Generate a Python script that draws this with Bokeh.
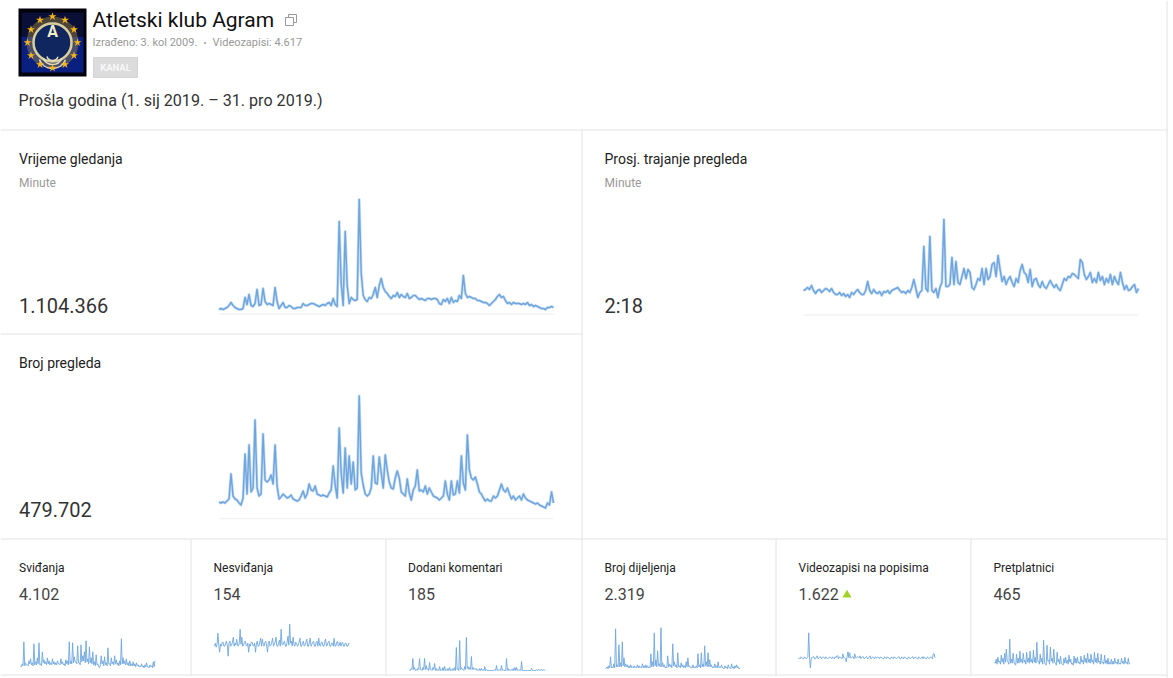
from bokeh.plotting import figure
from bokeh.models import Range1d
from bokeh.core.properties import value
from bokeh.embed import file_html
from bokeh.resources import INLINE

W, H = 1173, 678

watch_time = [4,5,4,5,6,8,11,8,6,5, 4,4,5,16,9,19,8,7,10,24, 8,9,25,12,9,10,9,8,26,12,
              5,8,11,6,6,8,7,5,5,6, 6,6,10,8,8,9,10,10,9,8, 7,8,9,8,10,11,8,15,9,7,
              92,30,8,82,28,10,16,14,13,14, 114,40,18,14,12,16,15,19,26,16,
              28,35,26,22,20,17,15,18,17,21, 16,19,17,16,20,15,16,18,18,16,
              14,15,14,13,15,15,14,15,15,14, 10,9,14,12,15,10,16,11,13,12,
              18,15,38,20,16,17,16,15,15,13, 13,12,11,11,10,8,10,12,14,17,
              19,16,17,13,10,11,9,11,10,10, 10,9,10,9,11,8,9,7,8,7, 6,5,5,4,6,6,7,6]
avg_duration = [24,25,27,25,29,24,21,24,25,22, 24,26,25,23,26,22,20,20,22,19, 21,18,20,17,22,20,23,25,22,20,
                20,24,33,24,21,25,22,21,23,19, 23,22,24,21,24,25,26,27,24,22, 23,21,24,22,27,35,26,17,22,24,
                68,26,23,78,24,22,26,17,27,32, 95,28,28,30,57,30,53,32,30,38,
                46,36,45,42,27,25,30,36,34,46, 30,46,35,38,50,52,38,59,45,33,
                38,30,35,38,32,28,36,32,44,50, 42,40,32,45,28,35,36,30,27,33,
                28,26,30,34,30,27,30,26,24,30, 36,34,38,37,41,40,38,36,55,52,
                40,35,38,42,32,36,32,42,34,38, 30,36,32,40,30,38,33,30,42,32, 25,29,24,25,28,30,22,26]
views = [16,15,16,15,17,19,44,22,19,18, 15,13,20,64,24,73,26,30,98,30, 22,24,84,38,36,38,43,34,73,32,
         19,21,24,22,20,21,23,19,18,17, 18,22,27,20,24,34,28,27,32,24, 23,22,23,22,21,25,28,52,33,20,
         90,45,25,70,30,62,34,56,28,30, 122,45,33,24,22,24,30,62,35,34,
         61,45,30,63,48,36,30,29,40,47, 40,26,24,22,39,25,18,28,32,48,
         27,28,26,32,24,30,26,22,21,20, 18,20,22,37,24,18,37,23,24,37,
         25,62,35,28,83,48,40,38,41,34, 26,24,20,17,19,17,17,22,20,22,
         28,34,28,26,30,24,19,22,18,20, 22,18,24,20,18,17,16,15,14,15, 13,12,11,10,15,13,26,15]
likes = [4,3,6,4,28,4,7,5,5,4,9,6,11,5,7,4,26,5,8,5, 12,6,27,5,6,4,18,7,10,6,8,5,12,6,9,5,7,5,11,6,
         8,5,7,5,9,6,6,5,11,6,8,5,6,4,10,6,9,5,28,6, 9,6,27,7,13,8,8,6,24,7,7,5,25,8,14,9,18,7,29,8,
         11,6,23,7,12,6,18,5,8,4,15,5,6,3,2,5,14,6,9,4, 13,5,7,4,22,6,6,4,12,6,8,5,14,6,10,5,7,4,9,5,
         31,6,12,6,9,5,11,5,7,4,9,4,6,4,8,4,6,3,7,4, 5,3,4,3,6,3,4,2,5,3,7,3,3,2,5,3,4,2,8,3,9]
dislikes = [11,14,10,13,24,12,5,13,11,15,15,11,11,14,16,12,1,14,16,11, 12,15,20,11,14,12,18,12,11,14,28,13,20,11,12,15,16,12,11,14,
            5,13,11,15,15,12,11,14,5,13,16,11,11,15,19,11,18,13,11,15, 16,12,5,14,16,11,12,15,19,11,13,15,20,11,11,14,17,11,28,13,
            12,15,16,11,11,15,21,12,33,14,16,11,20,13,11,15,14,11,12,15, 19,11,11,15,16,11,12,15,18,11,11,15,19,11,13,15,16,11,11,15,
            16,11,19,12,11,15,15,11,11,15,18,11,12,15,16,11,11,14,14,11, 19,11,11,15,16,11,12,15,11,14,15,11,11,14,14,11,11,14,13]
comments = [0,0,2,1,12,1,3,0,1,0,2,1,12,1,1,0,3,1,12,1, 5,1,2,0,8,1,1,0,3,1,7,0,2,0,1,0,4,0,1,0,
            3,0,4,0,1,0,2,0,3,0,1,0,2,0,3,0,23,1,2,0, 30,1,3,1,1,0,4,1,33,2,4,1,3,1,14,1,3,1,2,1,
            2,0,1,0,2,0,2,0,1,0,4,0,1,0,0,0,0,0,0,0, 0,0,1,0,5,0,1,0,1,0,5,0,1,0,0,0,12,0,2,0,
            1,0,1,0,2,0,3,0,3,0,1,0,1,0,9,0,0,0,0,0, 0,0,0,0,0,0,2,0,0,0,0,0,1,0,1,0,1,0,1,0,1,0,1]
shares = [1,2,3,1,4,2,13,2,3,2,6,2,41,3,5,3,25,3,7,3, 28,4,12,3,6,3,5,2,4,2,5,2,3,2,4,2,3,2,5,2,
          4,2,3,2,6,2,4,2,5,2,4,2,3,2,16,3,8,3,37,4, 10,3,19,4,6,3,42,3,7,3,5,2,3,2,14,3,6,3,5,2,
          26,4,8,3,5,2,17,3,4,2,7,3,5,2,4,2,8,3,12,3, 4,2,3,2,5,2,3,2,4,2,16,3,5,2,17,3,6,3,24,4,
          8,3,17,3,10,3,5,2,3,2,6,2,4,2,8,2,3,2,5,2, 2,1,4,2,3,1,5,2,2,1,6,2,3,1,4,2,5,2,3,1,2]
playlists = [10,11,10,12,11,10,10,12,11,10,11,12,36,10,1,11,11,12,12,10,
             10,12,13,10,11,12,12,10,11,12,11,10,12,11,10,11,11,12,11,10, 12,11,10,12,11,13,13,10,12,11,11,10,15,11,11,10,7,12,17,11,
             16,11,11,12,12,10,15,11,11,12,12,11,13,10,11,12,12,10,11,12, 12,10,11,12,13,10,11,12,11,10,12,11,11,12,11,10,12,11,11,10,
             10,12,11,10,12,11,11,10,10,12,11,10,12,11,11,10,11,12,12,10, 10,12,11,10,12,11,11,10,10,12,11,10,11,12,12,10,11,12,11,10,
             10,12,11,10,11,12,10,12,11,10,10,12,11,10,11,12,11,10,15,15,11]
subscribers = [5,4,8,3,10,5,6,3,12,5,9,3,14,5,18,6,5,3,28,4, 8,4,14,5,3,2,13,4,9,4,16,5,8,4,14,5,7,3,15,5,
               9,4,16,5,8,4,17,5,10,4,25,6,6,3,13,5,9,3,27,5, 3,2,22,6,7,3,20,6,9,4,18,5,4,2,15,5,8,3,11,4,
               3,2,9,4,10,4,7,3,12,5,8,3,4,2,11,4,9,4,10,4, 5,3,11,5,7,3,12,5,9,4,14,5,8,4,13,5,7,3,15,5,
               9,4,14,5,6,3,13,4,5,3,12,4,7,3,9,3,5,3,8,3, 6,3,9,4,5,3,8,3,4,3,9,4,6,3,10,4,5,3,9,3,4]

p = figure(width=W, height=H, x_range=Range1d(0, W), y_range=Range1d(H, 0),
           output_backend="svg", toolbar_location=None, min_border=0,
           outline_line_color=None)
p.axis.visible = False
p.grid.visible = False
p.styles = {"position": "absolute", "left": "0px", "top": "0px"}
p.background_fill_color = "#ffffff"


def label(x, y, s, size, color="#222222", style="normal", align="left"):
    p.text([x - 1], [y - 2], text=[s], text_font=value("Roboto"), text_font_size=f"{size}px",
           text_color=color, text_font_style=style, text_baseline="middle", text_align=align)


RULE = "#e2e2e2"
for y0, x0, x1 in [(130, 0, 1167), (334, 0, 582), (539, 0, 1167), (675, 0, 1167)]:
    p.segment([x0], [y0 - .5], [x1], [y0 - .5], line_color=RULE, line_width=1)
for x0, y0, y1 in [(582, 130, 675), (191, 539, 675), (386, 539, 675), (776, 539, 675),
                   (971, 539, 675), (1167, 0, 678)]:
    p.segment([x0 - .5], [y0], [x0 - .5], [y1], line_color=RULE, line_width=1)

# channel logo
p.quad(left=[18], right=[86], top=[8], bottom=[76], fill_color="#02030a", line_color=None)
p.quad(left=[21], right=[83], top=[36], bottom=[72], fill_color="#0a2080", line_color=None)
p.quad(left=[21], right=[83], top=[12], bottom=[36], fill_color="#0a0f38", line_color=None)
p.circle([52], [42], radius=26, fill_color="#c9a83c", fill_alpha=.35, line_color=None)
p.circle([52], [42], radius=19, fill_color="#10265e", line_color="#d8cfa0", line_width=2.5)
for r in [6, 10, 14]:
    p.arc([52], [54], radius=r, start_angle=3.5, end_angle=5.9, line_color="#e6e0c0", line_width=1.5)
label(53, 33, "A", 16, color="#f2eccb", style="bold", align="center")
ring_x = [52, 64.5, 73.5, 77, 73.5, 64.5, 52, 39.5, 30.5, 27, 30.5, 39.5]
ring_y = [16, 19.5, 29, 42, 55, 64, 67.5, 64, 55, 42, 29, 19.5]
p.scatter(ring_x, ring_y, marker="star", size=8.5, fill_color="#f4b41a", line_color=None)

label(93, 21, "Atletski klub Agram", 21, color="#111111")
p.quad(left=[288], right=[296], top=[14], bottom=[22], fill_color=None, line_color="#999999")
p.quad(left=[285], right=[293], top=[17], bottom=[25], fill_color="#ffffff", line_color="#999999")
label(93, 44, "Izrađeno: 3. kol 2009.", 11, color="#999999")
label(204, 44, "•", 9, color="#999999")
label(213, 44, "Videozapisi: 4.617", 11, color="#999999")
p.quad(left=[93], right=[137], top=[57], bottom=[77], fill_color="#dcdcdc", line_color="#d4d4d4")
label(116, 69, "KANAL", 9.5, color="#f7f7f7", style="bold", align="center")
label(19, 102, "Prošla godina (1. sij 2019. – 31. pro 2019.)", 16.1, color="#333333")

label(19.5, 160.5, "Vrijeme gledanja", 14, color="#222222")
label(19.5, 184.5, "Minute", 12, color="#999999")
label(19.5, 307, "1.104.366", 20, color="#333333")
label(605, 160.5, "Prosj. trajanje pregleda", 14, color="#222222")
label(605, 184.5, "Minute", 12, color="#999999")
label(19.5, 364.5, "Broj pregleda", 14, color="#222222")
label(19.5, 511, "479.702", 20, color="#333333")
label(605, 307, "2:18", 20, color="#333333")

small_titles = ["Sviđanja", "Nesviđanja", "Dodani komentari", "Broj dijeljenja",
                "Videozapisi na popisima", "Pretplatnici"]
small_values = ["4.102", "154", "185", "2.319", "1.622", "465"]
small_x = [19.5, 214, 408.5, 605, 799, 994]
for x0, t, v in zip(small_x, small_titles, small_values):
    label(x0, 569, t, 12, color="#222222")
    label(x0, 595, v, 16, color="#444444")
p.scatter([846.5], [594.5], marker="triangle", size=9, fill_color="#9ed322", line_color=None)

for x0, x1, y0 in [(219, 553, 313.5), (803, 1138, 314.5), (219, 553, 518)]:
    p.segment([x0], [y0], [x1], [y0], line_color="#f2f2f2", line_width=1.5)

LINE = "#6fa6de"


def spark(name, values, x0, x1, base):
    n = len(values) - 1
    step = (x1 - x0) / n
    p.extra_x_ranges[name] = Range1d(-x0 / step, (W - x0) / step)
    p.extra_y_ranges[name] = Range1d(base - H, base)
    return list(range(len(values)))


big = [("watch", watch_time, 218.5, 553, 313), ("dur", avg_duration, 803, 1138, 314),
       ("views", views, 218.5, 553, 517.5)]
for name, vals, x0, x1, base in big:
    xs = spark(name, vals, x0, x1, base)
    p.line(xs, vals, x_range_name=name, y_range_name=name, line_color=LINE, line_width=3,
           line_alpha=.35, line_join="round")
    p.line(xs, vals, x_range_name=name, y_range_name=name, line_color=LINE, line_width=1.5,
           line_join="round")

small = [("likes", likes, 20, 154.5, 669.3), ("dislikes", dislikes, 214, 349, 656.7),
         ("comments", comments, 409, 544.5, 670), ("shares", shares, 605, 739.5, 669.3),
         ("playlists", playlists, 798, 934.5, 668.3), ("subs", subscribers, 994, 1129.5, 666.7)]
for name, vals, x0, x1, base in small:
    xs = spark(name, vals, x0, x1, base)
    p.line(xs, vals, x_range_name=name, y_range_name=name, line_color=LINE, line_width=1,
           line_alpha=.9, line_join="round")

open("out.html", "w").write(file_html(p, INLINE))
